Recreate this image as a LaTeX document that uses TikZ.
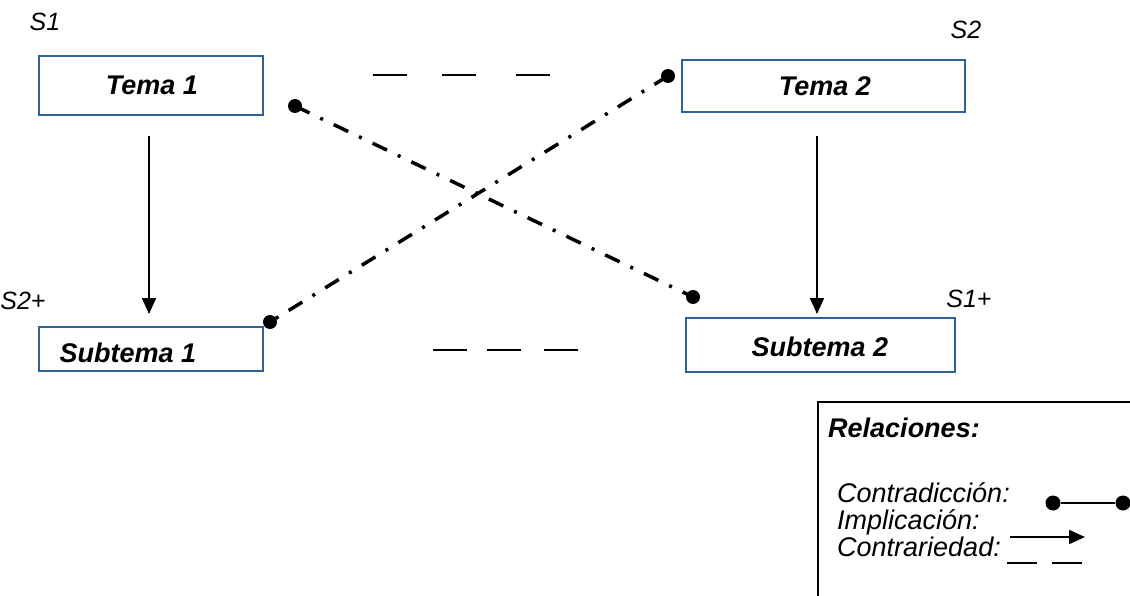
\documentclass[tikz,border=0pt]{standalone}
\usepackage{fontspec}
\setmainfont{Liberation Sans}
\usetikzlibrary{arrows.meta}
\definecolor{boxblue}{HTML}{2F6296}
\begin{document}
\begin{tikzpicture}[x=1pt,y=-1pt,
  box/.style={draw=boxblue, line width=2pt, rectangle, inner sep=0pt},
  boxtxt/.style={font=\fontsize{27}{32}\selectfont\bfseries\itshape, inner sep=0pt, anchor=base},
  lbl/.style={font=\fontsize{25}{30}\selectfont\itshape, inner sep=0pt, anchor=base},
  legtxt/.style={font=\fontsize{27}{30}\selectfont\itshape, inner sep=0pt, anchor=base west},
  imp/.style={line width=1.8pt, -{Triangle[length=16pt,width=14pt]}},
  contra/.style={line width=3.5pt, dash pattern=on 16pt off 12pt on 3pt off 12pt},
  dotc/.style={circle, fill=black, inner sep=0pt, minimum size=14pt},
  contrar/.style={line width=2.5pt}]
\useasboundingbox (0,0) rectangle (1130,596);
% boxes
\node[box, minimum width=224pt, minimum height=59pt] (t1) at (151,85.5) {};
\node[boxtxt] (t1t) at (152,95) {Tema 1};
\node[box, minimum width=283pt, minimum height=52pt] (t2) at (823.5,86) {};
\node[boxtxt] (t2t) at (825,96) {Tema 2};
\node[box, minimum width=224pt, minimum height=44pt] (s1) at (151,349) {};
\node[boxtxt] (s1t) at (128,362) {Subtema 1};
\node[box, minimum width=269pt, minimum height=54pt] (s2) at (820.5,345) {};
\node[boxtxt] (s2t) at (820,356) {Subtema 2};
% corner labels
\node[lbl] (ls1) at (45,31) {S1};
\node[lbl] (ls2) at (966,39) {S2};
\node[lbl] (ls2p) at (23,309) {S2+};
\node[lbl] (ls1p) at (969,307) {S1+};
% implications
\coordinate (a1) at (149,136);
\coordinate (a2) at (149,314);
\draw[imp] (a1) -- (a2);
\coordinate (b1) at (817,136);
\coordinate (b2) at (817,314);
\draw[imp] (b1) -- (b2);
% contradictions
\node[dotc] (d1) at (295,106) {};
\node[dotc] (d2) at (693,297) {};
\node[dotc] (d3) at (668,76) {};
\node[dotc] (d4) at (270,322) {};
\draw[contra] (d1.center) -- (d2.center);
\draw[contra] (d3.center) -- (d4.center);
% contrariety dashes
\foreach \x in {373,442,516} \draw[contrar] (\x,75) -- ++(34,0);
\foreach \x in {433,487,544} \draw[contrar] (\x,350) -- ++(34,0);
% legend
\draw[line width=1.5pt] (1140,402) -| (818,600);
\node[legtxt, font=\fontsize{27}{30}\selectfont\bfseries\itshape] (lrel) at (828,437) {Relaciones:};
\node[legtxt] (lc) at (837,502) {Contradicción:};
\node[legtxt] (li) at (837,529) {Implicación:};
\node[legtxt] (lcr) at (837,556) {Contrariedad:};
\node[dotc, minimum size=15pt] (e1) at (1053,503) {};
\node[dotc, minimum size=15pt] (e2) at (1123,503) {};
\draw[line width=2pt] (e1) -- (e2);
\coordinate (f1) at (1010,537);
\coordinate (f2) at (1085,537);
\draw[imp, line width=2pt] (f1) -- (f2);
\draw[contrar] (1007,563) -- (1037,563);
\draw[contrar] (1052,563) -- (1082,563);
\end{tikzpicture}
\end{document}
